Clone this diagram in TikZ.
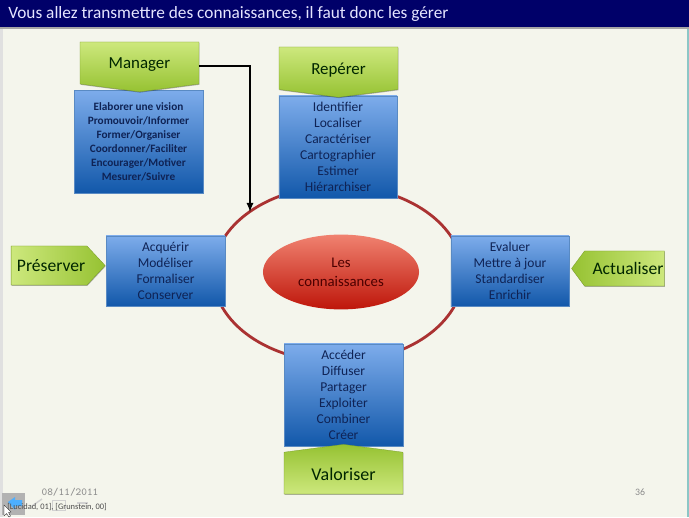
\documentclass[tikz,border=0pt]{standalone}
\usepackage{fontspec}
\setmainfont{Carlito}
\usetikzlibrary{shapes.symbols,shapes.geometric,shadows}
\definecolor{slidebg}{RGB}{244,245,236}
\definecolor{titlebar}{RGB}{0,0,105}
\definecolor{ringred}{RGB}{170,50,50}
\definecolor{greenlight}{RGB}{205,232,125}
\definecolor{greendark}{RGB}{150,194,50}
\definecolor{bluelight}{RGB}{125,172,235}
\definecolor{bluedark}{RGB}{18,88,170}
\definecolor{inktext}{RGB}{15,35,85}
\definecolor{redlight}{RGB}{240,130,112}
\definecolor{reddark}{RGB}{190,22,10}
\tikzset{
  softshadow/.style={drop shadow={shadow xshift=0.3pt,shadow yshift=-0.6pt,fill=black,opacity=0.3}},
  tagshape/.style={signal, signal from=nowhere, draw=greendark!80!black, very thin, softshadow,
    inner sep=0pt, outer sep=0pt, text=black!85!green, font=\fontsize{12}{14}\selectfont},
  listbox/.style={rectangle, draw=bluedark!70!white, very thin, top color=bluelight, bottom color=bluedark, softshadow,
    inner sep=0pt, outer sep=0pt, align=center, text=inktext, font=\fontsize{9.6}{11.4}\selectfont},
}
\begin{document}
\begin{tikzpicture}[x=0.025cm, y=-0.025cm]
    % Slide background
    \fill[slidebg] (0,0) rectangle (689,517);
    \fill[black!12] (0,27) rectangle (3,517);
    \fill[teal!45] (687,27) rectangle (689,517);
    \fill[black!35] (0,27) rectangle (689,29);
    \fill[titlebar] (0,0) rectangle (689,27);
    \node[anchor=west, text=white!90!blue, inner sep=0pt, font=\fontsize{12.3}{15}\selectfont] (title) at (8,14)
        {Vous allez transmettre des connaissances, il faut donc les gérer};

    % Ring behind the boxes
    \draw[ringred, line width=2pt] (338,274) ellipse [x radius=125, y radius=88];
    \node[ellipse, draw=none, top color=redlight, bottom color=reddark, minimum width=3.9cm, minimum height=1.87cm,
        align=center, text=black!70!red, inner sep=0pt, font=\fontsize{10.5}{13.5}\selectfont] (coeur) at (341,272)
        {Les\\connaissances};

    % Lists
    \node[listbox, minimum width=3.22cm, minimum height=2.57cm, text=inktext, font=\bfseries\fontsize{8}{10}\selectfont] (listmanager) at (138.5,141.5)
        {Elaborer une vision\\Promouvoir/Informer\\Former/Organiser\\Coordonner/Faciliter\\Encourager/Motiver\\Mesurer/Suivre};
    \node[listbox, minimum width=2.95cm, minimum height=2.55cm] (listreperer) at (338,147)
        {Identifier\\Localiser\\Caractériser\\Cartographier\\Estimer\\Hiérarchiser};
    \node[listbox, minimum width=2.97cm, minimum height=1.75cm] (listpreserver) at (165.5,271)
        {Acquérir\\Modéliser\\Formaliser\\Conserver};
    \node[listbox, minimum width=2.95cm, minimum height=1.75cm] (listactualiser) at (510,271)
        {Evaluer\\Mettre à jour\\Standardiser\\Enrichir};
    \node[listbox, minimum width=2.97cm, minimum height=2.55cm] (listvaloriser) at (343.5,395)
        {Accéder\\Diffuser\\Partager\\Exploiter\\Combiner\\Créer};

    % Tags
    \node[tagshape, anchor=north, signal to=south, signal pointer angle=165, minimum width=2.97cm, minimum height=1.15cm, top color=greenlight, bottom color=greendark] (manager) at (139.5,42) {\raisebox{-1.4pt}[\height][\depth]{Manager}};
    \node[tagshape, anchor=north, signal to=south, signal pointer angle=165, minimum width=2.97cm, minimum height=1.15cm, top color=greenlight, bottom color=greendark] (reperer) at (338.5,47) {\raisebox{-1.4pt}[\height][\depth]{Repérer}};
    \node[tagshape, anchor=south, signal to=north, signal pointer angle=165, minimum width=2.97cm, minimum height=1.15cm, top color=greendark, bottom color=greenlight, font=\fontsize{12.8}{14}\selectfont] (valoriser) at (343.5,494) {\raisebox{-0.7pt}[\height][\depth]{Valoriser}};
    \node[tagshape, signal to=east, signal pointer angle=94, minimum width=2.35cm, minimum height=0.98cm, left color=greenlight, right color=greendark, font=\fontsize{12.5}{14}\selectfont] (preserver) at (49,265.5) {\hspace*{3pt}Préserver};
    \node[tagshape, signal to=west, signal pointer angle=107, minimum width=2.32cm, minimum height=0.88cm, left color=greendark, right color=greenlight, font=\fontsize{12.5}{14}\selectfont] (actualiser) at (624.5,268.5) {\hspace*{5pt}Actualiser};

    % Manager feeds the ring
    \coordinate (ringtop) at (250,212);
    \draw[-latex, black, line width=1.2pt] ([yshift=-2pt]manager.east) -| (ringtop);

    % Footer
    \node[text=black!45, font=\fontsize{7.6}{10}\selectfont\ttfamily] (datefoot) at (70,492) {08/11/2011};
    \node[text=black!45, font=\fontsize{7}{8}\selectfont] (pagefoot) at (640,492) {36};
    \fill[black!30] (2,493) rectangle (25,515);
    \fill[blue!45!cyan!70!white] (8,502) -- (15,497) -- (15,500) -- (22,500) -- (22,506) -- (15,506) -- (15,510) -- cycle;
    \draw[black!18, line width=1pt] (32,506) -- (42,499);
    \draw[black!18, line width=0.6pt] (52,500) rectangle (65,510);
    \draw[black!18, line width=1pt] (77,503) -- (88,503);
    \node[anchor=west, text=black!70, inner sep=0pt, font=\fontsize{6}{7}\selectfont] (citation) at (7,507) {[Lucidad, 01], [Grunstein, 00]};
    \fill[white, draw=black, very thin] (4,505) -- (4,516) -- (6.5,513.5) -- (9,517) -- (10.5,516) -- (8.5,512.5) -- (11,512) -- cycle;
\end{tikzpicture}
\end{document}
